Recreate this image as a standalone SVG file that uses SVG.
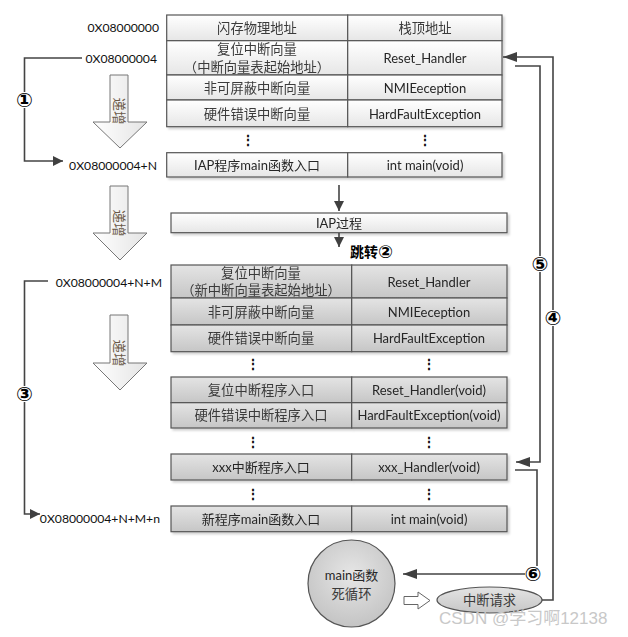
<svg xmlns="http://www.w3.org/2000/svg" width="628" height="637" viewBox="0 0 628 637">
<defs>
  <linearGradient id="gLight" x1="0" y1="0" x2="0" y2="1">
    <stop offset="0" stop-color="#ffffff"/>
    <stop offset="1" stop-color="#e6e6e6"/>
  </linearGradient>
  <linearGradient id="gGray" x1="0" y1="0" x2="0" y2="1">
    <stop offset="0" stop-color="#e4e4e4"/>
    <stop offset="1" stop-color="#c6c6c6"/>
  </linearGradient>
  <linearGradient id="gArrow" x1="0" y1="0" x2="1" y2="0">
    <stop offset="0" stop-color="#ffffff"/>
    <stop offset="1" stop-color="#e4e4e4"/>
  </linearGradient>
  <radialGradient id="gCircle" cx="0.5" cy="0.4" r="0.6">
    <stop offset="0" stop-color="#e6e6e6"/>
    <stop offset="1" stop-color="#c4c4c4"/>
  </radialGradient>
  <filter id="sh" x="-5%" y="-10%" width="112%" height="130%">
    <feDropShadow dx="2" dy="2" stdDeviation="1.2" flood-color="#000" flood-opacity="0.18"/>
  </filter>
  <marker id="ah" viewBox="0 0 10 10" refX="10" refY="5" markerWidth="10" markerHeight="10" markerUnits="userSpaceOnUse" orient="auto">
    <path d="M0,0 L10,5 L0,10 Z" fill="#404040"/>
  </marker>
  <marker id="ahL" viewBox="0 0 14 10" refX="14" refY="5" markerWidth="14" markerHeight="10" markerUnits="userSpaceOnUse" orient="auto">
    <path d="M0,0 L14,5 L0,10 Z" fill="#404040"/>
  </marker>
</defs>
<style>
  text { font-family: Lato, "Noto Sans CJK SC", sans-serif; fill: #262626; }
  .cell { font-size: 13px; text-anchor: middle; dominant-baseline: central; }
  .cn { font-size: 13.3px; fill: #3a3a3a; }
  .addr { font-size: 12.2px; text-anchor: end; dominant-baseline: central; fill: #111; }
  .lt rect { fill: url(#gLight); stroke: #555; stroke-width: 1.2; }
  .dk rect { fill: url(#gGray); stroke: #555; stroke-width: 1.2; }
  .tbl { filter: url(#sh); }
  .dots { font-size: 14px; font-weight: bold; text-anchor: middle; dominant-baseline: central; fill: #111; }
  .num { font-family: "DejaVu Sans", sans-serif; font-size: 20px; font-weight: bold; text-anchor: middle; dominant-baseline: central; fill: #000; }
  .conn { fill: none; stroke: #444; stroke-width: 1.6; }
  .blk { fill: url(#gArrow); stroke: #777; stroke-width: 1; }
  .vt { font-size: 13.5px; fill: #6b5a48; text-anchor: middle; dominant-baseline: central; }
</style>

<!-- address labels -->
<g id="addr-labels">
  <text class="addr" x="159" y="27">0X08000000</text>
  <text class="addr" x="157" y="58">0X08000004</text>
  <text class="addr" x="157" y="165">0X08000004+N</text>
  <text class="addr" x="162" y="282">0X08000004+N+M</text>
  <text class="addr" x="160" y="518">0X08000004+N+M+n</text>
</g>

<!-- top table -->
<g id="top-table" class="tbl lt">
  <g id="row-flash">
    <rect x="166.7" y="15" width="181" height="25.7"/>
    <rect x="347.7" y="15" width="154.3" height="25.7"/>
    <text class="cell cn" x="257" y="28">闪存物理地址</text>
    <text class="cell cn" x="425" y="28">栈顶地址</text>
  </g>
  <g id="row-reset">
    <rect x="166.7" y="40.7" width="181" height="34.3"/>
    <rect x="347.7" y="40.7" width="154.3" height="34.3"/>
    <text class="cell cn" x="257" y="48.5">复位中断向量</text>
    <text class="cell cn" x="257" y="67">（中断向量表起始地址）</text>
    <text class="cell" x="425" y="58">Reset_Handler</text>
  </g>
  <g id="row-nmi">
    <rect x="166.7" y="75" width="181" height="25"/>
    <rect x="347.7" y="75" width="154.3" height="25"/>
    <text class="cell cn" x="257" y="88">非可屏蔽中断向量</text>
    <text class="cell" x="425" y="88">NMIEeception</text>
  </g>
  <g id="row-hard">
    <rect x="166.7" y="100" width="181" height="26.7"/>
    <rect x="347.7" y="100" width="154.3" height="26.7"/>
    <text class="cell cn" x="257" y="114">硬件错误中断向量</text>
    <text class="cell" x="425" y="114">HardFaultException</text>
  </g>
</g>
<g id="top-dots">
  <text class="dots" x="248" y="139">⋮</text>
  <text class="dots" x="425" y="139">⋮</text>
</g>
<g id="iap-main" class="tbl lt">
  <rect x="166.7" y="152.7" width="181" height="24.3"/>
  <rect x="347.7" y="152.7" width="154.3" height="24.3"/>
  <text class="cell" x="257" y="165">IAP程序main函数入口</text>
  <text class="cell" x="425" y="165">int main(void)</text>
</g>

<!-- IAP process box -->
<g id="iap-process" class="tbl lt">
  <rect x="171" y="213" width="336" height="19.7"/>
  <text class="cell" x="339" y="223">IAP过程</text>
</g>

<!-- lower table -->
<g id="new-table" class="tbl dk">
  <g id="n-reset">
    <rect x="171" y="265" width="180.7" height="33"/>
    <rect x="351.7" y="265" width="155.3" height="33"/>
    <text class="cell cn" x="261" y="272.5">复位中断向量</text>
    <text class="cell cn" x="261" y="290">（新中断向量表起始地址）</text>
    <text class="cell" x="429" y="282">Reset_Handler</text>
  </g>
  <g id="n-nmi">
    <rect x="171" y="298" width="180.7" height="27"/>
    <rect x="351.7" y="298" width="155.3" height="27"/>
    <text class="cell cn" x="261" y="311.5">非可屏蔽中断向量</text>
    <text class="cell" x="429" y="311.5">NMIEeception</text>
  </g>
  <g id="n-hard">
    <rect x="171" y="325" width="180.7" height="26.7"/>
    <rect x="351.7" y="325" width="155.3" height="26.7"/>
    <text class="cell cn" x="261" y="338">硬件错误中断向量</text>
    <text class="cell" x="429" y="338">HardFaultException</text>
  </g>
</g>
<g id="new-dots-1">
  <text class="dots" x="253" y="363">⋮</text>
  <text class="dots" x="429" y="363">⋮</text>
</g>
<g id="new-isr-table" class="tbl dk">
  <g id="n-reset-isr">
    <rect x="171" y="377" width="180.7" height="25.7"/>
    <rect x="351.7" y="377" width="155.3" height="25.7"/>
    <text class="cell cn" x="261" y="390">复位中断程序入口</text>
    <text class="cell" x="429" y="390">Reset_Handler(void)</text>
  </g>
  <g id="n-hard-isr">
    <rect x="171" y="402.7" width="180.7" height="25.3"/>
    <rect x="351.7" y="402.7" width="155.3" height="25.3"/>
    <text class="cell cn" x="261" y="415">硬件错误中断程序入口</text>
    <text class="cell" x="429" y="415">HardFaultException(void)</text>
  </g>
</g>
<g id="new-dots-2">
  <text class="dots" x="253" y="441">⋮</text>
  <text class="dots" x="429" y="441">⋮</text>
</g>
<g id="n-xxx" class="tbl dk">
  <rect x="171" y="454" width="180.7" height="26"/>
  <rect x="351.7" y="454" width="155.3" height="26"/>
  <text class="cell" x="261" y="467">xxx中断程序入口</text>
  <text class="cell" x="429" y="467">xxx_Handler(void)</text>
</g>
<g id="new-dots-3">
  <text class="dots" x="253" y="493">⋮</text>
  <text class="dots" x="429" y="493">⋮</text>
</g>
<g id="n-main" class="tbl dk">
  <rect x="171" y="506" width="180.7" height="25.7"/>
  <rect x="351.7" y="506" width="155.3" height="25.7"/>
  <text class="cell" x="261" y="519">新程序main函数入口</text>
  <text class="cell" x="429" y="519">int main(void)</text>
</g>

<!-- main loop circle -->
<g id="main-loop">
  <circle cx="351.5" cy="583.5" r="43.5" fill="url(#gCircle)" stroke="#555" stroke-width="1.2"/>
  <text class="cell" x="351.5" y="575">main函数</text>
  <text class="cell cn" x="351.5" y="594">死循环</text>
</g>

<!-- interrupt request ellipse -->
<g id="irq">
  <ellipse cx="489.5" cy="600" rx="52.5" ry="13" fill="url(#gGray)" stroke="#555" stroke-width="1.2"/>
  <text class="cell cn" x="489.5" y="600">中断请求</text>
</g>

<!-- block arrows -->
<g id="inc-arrows">
  <g id="inc1">
    <polygon class="blk" points="110,75 128,75 128,122 147,122 120,148 93,122 110,122"/>
    <text class="vt" transform="translate(119,111) rotate(90)">递增</text>
  </g>
  <g id="inc2">
    <polygon class="blk" points="110,186 128,186 128,233 147,233 120,260 93,233 110,233"/>
    <text class="vt" transform="translate(119,223) rotate(90)">递增</text>
  </g>
  <g id="inc3">
    <polygon class="blk" points="110,315 128,315 128,363 147,363 120,390 93,363 110,363"/>
    <text class="vt" transform="translate(119,353) rotate(90)">递增</text>
  </g>
  <g id="hollow">
    <polygon points="404,596.5 418,596.5 418,592 430,600.5 418,609 418,604.5 404,604.5" fill="#fff" stroke="#666" stroke-width="1"/>
  </g>
</g>

<!-- connectors -->
<g id="connectors">
  <path class="conn" d="M82,58 H24.5 V161 H63" marker-end="url(#ah)"/>
  <path class="conn" d="M339,185 V211" marker-end="url(#ah)"/>
  <path class="conn" d="M339,233 V247" marker-end="url(#ah)"/>
  <path class="conn" d="M48,281 H24.5 V514 H40" marker-end="url(#ah)"/>
  <path class="conn" d="M542,600 H553 V57 H503" marker-end="url(#ahL)"/>
  <path class="conn" d="M515,66 H540 V462 H516" marker-end="url(#ahL)"/>
  <path class="conn" d="M515,470 H537 V574 H403" marker-end="url(#ahL)"/>
</g>

<!-- connector labels -->
<g id="labels">
  <rect x="16" y="92" width="17" height="16" fill="#fff"/>
  <text class="num" x="24.5" y="100">①</text>
  <text x="350" y="251" style="font-size:14px;font-weight:bold;dominant-baseline:central;fill:#000">跳转<tspan style="font-family:'DejaVu Sans',sans-serif;font-size:18px">②</tspan></text>
  <rect x="16" y="386" width="17" height="16" fill="#fff"/>
  <text class="num" x="24.5" y="394">③</text>
  <rect x="545" y="310" width="17" height="16" fill="#fff"/>
  <text class="num" x="553" y="318">④</text>
  <rect x="531" y="256" width="17" height="16" fill="#fff"/>
  <text class="num" x="540" y="264">⑤</text>
  <rect x="525" y="566" width="17" height="16" fill="#fff"/>
  <text class="num" x="533" y="574">⑥</text>
</g>

<text x="439" y="624" style="font-family:'Liberation Sans','Noto Sans CJK SC',sans-serif;font-size:17px;fill:#c8c8c8">CSDN @学习啊12138</text>
</svg>
